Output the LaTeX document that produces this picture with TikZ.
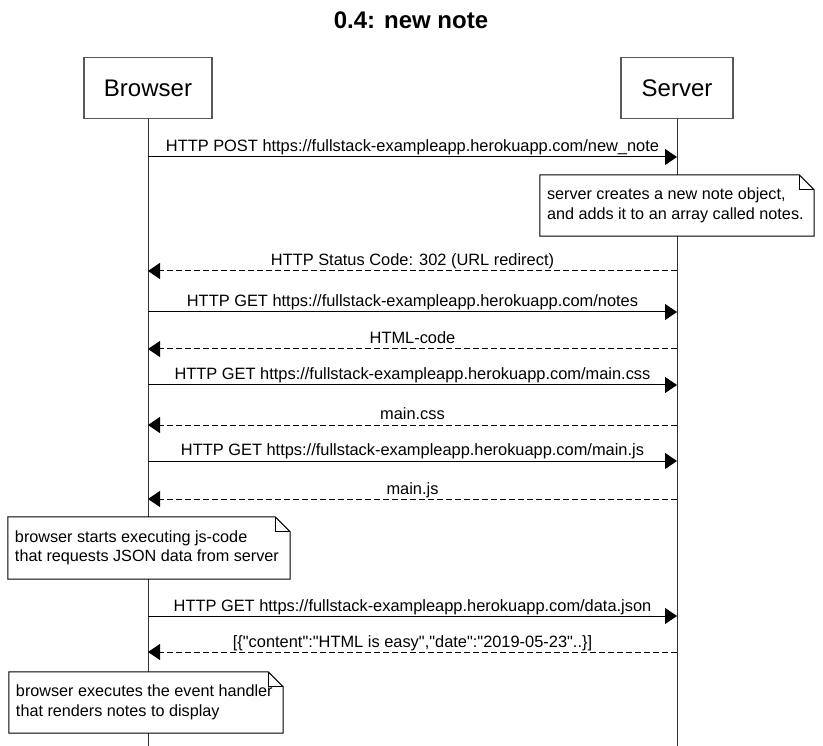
\documentclass[tikz,border=0pt]{standalone}
\usepackage{fontspec}
\setmainfont{Liberation Sans}[Ligatures=TeXOff]
\usetikzlibrary{arrows.meta}
\newcommand\msgfont{\fontsize{16.4}{19.5}\selectfont}
\newcommand\notefont{\fontsize{16.2}{19.5}\selectfont}
\begin{document}
\begin{tikzpicture}[x=1pt,y=-1pt,
actor/.style={draw=black!65,line width=1.5pt,minimum height=61pt,font=\fontsize{24}{28}\selectfont},
call/.style={line width=1pt,-{Triangle[length=12pt,width=16pt]}},
back/.style={call,dash pattern=on 6pt off 3pt},
lbl/.style={midway,above,inner sep=1pt,text depth=3.5pt,font=\msgfont},
note/.style={fill=white,inner xsep=7pt,inner ysep=6pt,align=flush left,font=\notefont}]
\useasboundingbox (0,0) rectangle (823,746);
\node[font=\bfseries\fontsize{24}{28}\selectfont] (title) at (411,20) {0.4: new note};
\node[actor,minimum width=128pt] (browser) at (148,88) {Browser};
\node[actor,minimum width=112pt] (server) at (677,88) {Server};
\coordinate (bend) at (148,746);
\coordinate (send) at (677,746);
\draw[line width=1pt,black!80] (browser) -- (bend);
\draw[line width=1pt,black!80] (server) -- (send);
\foreach \n/\y in {1/157,2/271,3/312,4/349,5/385,6/425,7/461,8/499,9/616,10/652}
{
\coordinate (b\n) at (148,\y);
\coordinate (s\n) at (677,\y);
}
\draw[call] (b1) -- (s1) node[lbl] {HTTP POST https://fullstack-exampleapp.herokuapp.com/new\_note};
\node[note,text width=260pt,minimum height=61pt] (snote) at (677,205.5) {\mbox{server creates a new note object,}\\\mbox{and adds it to an array called notes.}};
\draw[back] (s2) -- (b2) node[lbl] {HTTP Status Code: 302 (URL redirect)};
\draw[call] (b3) -- (s3) node[lbl] {HTTP GET https://fullstack-exampleapp.herokuapp.com/notes};
\draw[back] (s4) -- (b4) node[lbl] {HTML-code};
\draw[call] (b5) -- (s5) node[lbl] {HTTP GET https://fullstack-exampleapp.herokuapp.com/main.css};
\draw[back] (s6) -- (b6) node[lbl] {main.css};
\draw[call] (b7) -- (s7) node[lbl] {HTTP GET https://fullstack-exampleapp.herokuapp.com/main.js};
\draw[back] (s8) -- (b8) node[lbl] {main.js};
\node[note,text width=268pt,minimum height=62pt] (bnote1) at (149,548) {\mbox{browser starts executing js-code}\\\mbox{that requests JSON data from server}};
\draw[call] (b9) -- (s9) node[lbl] {HTTP GET https://fullstack-exampleapp.herokuapp.com/data.json};
\draw[back] (s10) -- (b10) node[lbl] {[\{"content":"HTML is easy","date":"2019-05-23"..\}]};
\node[note,text width=260pt,minimum height=61pt] (bnote2) at (146,702.5) {\mbox{browser executes the event handler}\\\mbox{that renders notes to display}};
\foreach \nt in {snote,bnote1,bnote2}
{
\draw[line width=1pt] (\nt.south west) -- (\nt.north west) -- ([xshift=-15pt]\nt.north east) -- ([yshift=-15pt]\nt.north east) -- (\nt.south east) -- cycle;
\draw[line width=1pt] ([xshift=-15pt]\nt.north east) -- ([xshift=-15pt,yshift=-15pt]\nt.north east) -- ([yshift=-15pt]\nt.north east);
}
\end{tikzpicture}
\end{document}
